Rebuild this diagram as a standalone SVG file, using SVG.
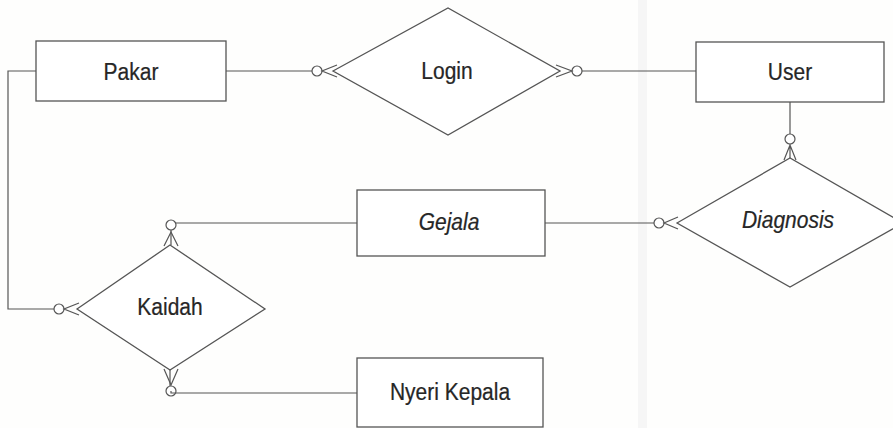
<svg xmlns="http://www.w3.org/2000/svg" width="893" height="428" viewBox="0 0 893 428">
  <style>
    .shape { fill: #ffffff; stroke: #555555; stroke-width: 1.3; }
    .line { fill: none; stroke: #555555; stroke-width: 1.2; }
    .mark { fill: #ffffff; stroke: #555555; stroke-width: 1.2; }
    .label { font-family: "Liberation Sans", Arial, sans-serif; font-size: 21px; fill: #262626; stroke: #262626; stroke-width: 0.2; text-anchor: middle; }
    .ital { font-style: italic; }
  </style>

  <!-- paper -->
  <rect x="0" y="0" width="893" height="428" fill="#fefefd"/>
  <rect x="638" y="0" width="9" height="428" fill="#f6f6f6"/>

  <!-- connectors -->
  <g id="connectors">
    <!-- Pakar - Login -->
    <path class="line" d="M226 71 H312"/>
    <circle class="mark" cx="317" cy="71" r="5"/>
    <path class="line" d="M337 65 L322 71 L337 77"/>
    <!-- Login - User -->
    <path class="line" d="M582 71 H696"/>
    <circle class="mark" cx="577" cy="71" r="5"/>
    <path class="line" d="M556 65 L572 71 L556 77"/>
    <!-- User - Diagnosis -->
    <path class="line" d="M790 102 V134"/>
    <circle class="mark" cx="790" cy="139" r="5"/>
    <path class="line" d="M790 144 V158 M784 160 L790 145 L796 160"/>
    <!-- Gejala - Diagnosis -->
    <path class="line" d="M545 223 H654"/>
    <circle class="mark" cx="659" cy="223" r="5"/>
    <path class="line" d="M678 217 L664 223 L678 229"/>
    <!-- Gejala - Kaidah -->
    <path class="line" d="M357 223 H171 V245"/>
    <circle class="mark" cx="171" cy="225" r="5"/>
    <path class="line" d="M164 246 L171 232 L178 246"/>
    <!-- Pakar - Kaidah -->
    <path class="line" d="M36 71 H8 V309 H54"/>
    <circle class="mark" cx="59" cy="309" r="5"/>
    <path class="line" d="M79 303 L64 309 L79 315"/>
    <!-- Kaidah - Nyeri Kepala -->
    <path class="line" d="M170 370 V386"/>
    <path class="line" d="M164 369 L171 385 L178 369"/>
    <circle class="mark" cx="171" cy="391" r="5"/>
    <path class="line" d="M171 391 V393 H357"/>
  </g>

  <!-- entities -->
  <g id="pakar">
    <rect class="shape" x="36" y="41" width="190" height="60"/>
    <text class="label" transform="translate(131,80) scale(1,1.1)">Pakar</text>
  </g>
  <g id="user">
    <rect class="shape" x="696" y="42" width="188" height="60"/>
    <text class="label" transform="translate(790,80) scale(1,1.1)">User</text>
  </g>
  <g id="gejala">
    <rect class="shape" x="357" y="190" width="188" height="66"/>
    <text class="label ital" transform="translate(449,230) scale(1,1.1)">Gejala</text>
  </g>
  <g id="nyeri-kepala">
    <rect class="shape" x="357" y="358" width="186" height="69"/>
    <text class="label" transform="translate(450,400) scale(1,1.1)">Nyeri Kepala</text>
  </g>

  <!-- relationships -->
  <g id="login">
    <polygon class="shape" points="333,71 448,8 560,71 448,135"/>
    <text class="label" transform="translate(447,79) scale(1,1.1)">Login</text>
  </g>
  <g id="diagnosis">
    <polygon class="shape" points="677,223 790,158 903,223 790,287"/>
    <text class="label ital" transform="translate(788,228) scale(1,1.1)">Diagnosis</text>
  </g>
  <g id="kaidah">
    <polygon class="shape" points="77,309 170,245 265,309 170,370"/>
    <text class="label" transform="translate(170,315) scale(1,1.1)">Kaidah</text>
  </g>
</svg>
